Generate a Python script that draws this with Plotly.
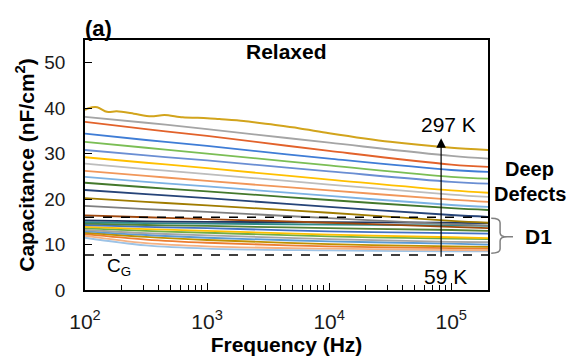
import plotly.graph_objects as go
import math

# ---------------- data ----------------
freq_hz = [100, 316, 1000, 10000, 100000, 200000]

# top curve (297 K) read with its low-frequency wiggles
top_freq_hz = [100, 107, 126, 151, 182, 251, 347, 447, 631, 1000, 1259, 1995,
               3162, 5623, 10000, 31623, 100000, 200000]
top_cap = [39.6, 40.0, 40.2, 39.2, 39.3, 38.8, 38.2, 38.5, 38.0, 37.8, 37.6,
           37.2, 36.5, 35.6, 34.5, 32.6, 31.3, 30.8]

upper_caps = [
    [38.1, 36.8, 35.4, 32.4, 29.5, 28.9],
    [37.0, 35.4, 33.9, 30.6, 27.6, 27.1],
    [34.4, 33.0, 31.7, 28.9, 26.4, 26.0],
    [32.6, 31.3, 30.0, 27.4, 24.9, 24.5],
    [30.8, 29.6, 28.5, 26.1, 23.8, 23.4],
    [29.2, 28.0, 26.8, 24.3, 21.9, 21.4],
    [27.8, 26.6, 25.5, 23.2, 21.0, 20.5],
    [26.2, 25.1, 24.0, 21.9, 19.9, 19.4],
    [24.9, 23.8, 22.8, 20.7, 18.7, 18.3],
    [23.6, 22.6, 21.7, 19.8, 18.0, 17.6],
    [22.0, 21.1, 20.2, 18.3, 16.5, 16.1],
    [20.2, 19.4, 18.6, 17.0, 15.2, 14.8],
    [18.5, 17.8, 17.2, 15.8, 14.5, 14.2],
    [16.4, 16.0, 15.6, 14.8, 13.9, 13.6],
]
upper_colors = ["#A5A5A5", "#E2622B", "#3F7DD6", "#7BBE55", "#6A8ED3",
                "#FFC000", "#BDBDBD", "#F1975A", "#7CB2E3", "#43782B",
                "#264478", "#A07C00", "#7F7F7F", "#9E480E"]

d1_caps = [
    [15.3, 15.1, 15.0, 14.9, 14.8, 14.7],
    [14.9, 14.7, 14.6, 14.4, 14.2, 14.1],
    [14.6, 14.3, 14.1, 13.6, 13.2, 13.0],
    [14.3, 13.9, 13.6, 12.9, 12.5, 12.4],
    [13.9, 13.4, 13.0, 12.2, 11.6, 11.4],
    [13.6, 13.0, 12.6, 11.8, 11.3, 11.2],
    [13.2, 12.5, 12.0, 11.2, 10.6, 10.5],
    [12.9, 12.1, 11.5, 10.7, 10.2, 10.0],
    [12.6, 11.7, 11.0, 10.1, 9.6, 9.5],
    [12.3, 11.1, 10.4, 9.6, 9.2, 9.1],
    [11.9, 10.3, 9.6, 9.1, 8.8, 8.7],
    [11.5, 9.8, 9.1, 8.7, 8.5, 8.5],
]
d1_colors = ["#1F3864", "#2F8A8A", "#548235", "#4472C4", "#FFC000", "#70AD47",
             "#A5A5A5", "#5B9BD5", "#BF9000", "#ED7D31", "#F4B183", "#9DC3E6"]

top_color = "#D2A41C"
cg_level = 7.7          # geometric capacitance C_G
d1_level = 16.0         # upper limit of D1 band
arrow_freq = 82600
arrow_low, arrow_high = 7.0, 33.4
x_tick_vals = [100, 1000, 10000, 100000]
x_tick_text = ["10<sup>2</sup>", "10<sup>3</sup>", "10<sup>4</sup>", "10<sup>5</sup>"]
y_tick_vals = [0, 10, 20, 30, 40, 50]
f_min, f_max = 100, 200000

# ---------------- figure ----------------
fig = go.Figure()
line_w = 1.8

for caps, col in zip(d1_caps[::-1], d1_colors[::-1]):
    fig.add_trace(go.Scatter(x=freq_hz, y=caps, mode="lines",
                             line=dict(color=col, width=line_w, shape="spline"),
                             showlegend=False, hoverinfo="skip"))
for caps, col in zip(upper_caps[::-1], upper_colors[::-1]):
    fig.add_trace(go.Scatter(x=freq_hz, y=caps, mode="lines",
                             line=dict(color=col, width=line_w, shape="spline"),
                             showlegend=False, hoverinfo="skip"))
fig.add_trace(go.Scatter(x=top_freq_hz, y=top_cap, mode="lines",
                         line=dict(color=top_color, width=2, shape="spline", smoothing=0.8),
                         showlegend=False, hoverinfo="skip"))

# dashed reference lines
for lvl in (cg_level, d1_level):
    fig.add_trace(go.Scatter(x=[f_min, f_max], y=[lvl, lvl], mode="lines",
                             line=dict(color="black", width=1.4, dash="dash"),
                             showlegend=False, hoverinfo="skip"))

fig.add_annotation(x=math.log10(arrow_freq), y=arrow_high, ax=math.log10(arrow_freq),
                   ay=arrow_low, xref="x", yref="y", axref="x", ayref="y",
                   showarrow=True, arrowhead=2, arrowsize=1.6, arrowwidth=1.2,
                   arrowcolor="black", text="")

font = "Arial, Liberation Sans, sans-serif"
def ann(text, x, y, size, xref="paper", yref="paper", bold=False, xanchor="center"):
    fig.add_annotation(text=("<b>%s</b>" % text) if bold else text, x=x, y=y,
                       xref=xref, yref=yref, showarrow=False, xanchor=xanchor,
                       yanchor="middle", font=dict(family=font, size=size, color="black"))

ann("(a)", 0.033, 1.045, 22, bold=True)
ann("Relaxed", 0.5, 0.955, 21, bold=True)
ann("297 K", 4.98, 36.4, 21, xref="x", yref="y")
ann("59 K", 4.95, 2.9, 21, xref="x", yref="y")
ann("C<sub>G</sub>", 2.28, 5.0, 19, xref="x", yref="y")
ann("Deep", 1.104, 26.7, 20, yref="y", bold=True)
ann("Defects", 1.104, 21.2, 20, yref="y", bold=True)
ann("D1", 1.125, 11.7, 21, yref="y", bold=True)

# brace for D1
fig.add_shape(type="path", xref="paper", yref="y",
              path="M 1.008,15.8 Q 1.03,15.8 1.03,14.8 L 1.03,12.6 Q 1.03,11.7 1.048,11.7 "
                   "Q 1.03,11.7 1.03,10.8 L 1.03,9.0 Q 1.03,8.1 1.008,8.1 "
                   "M 1.048,11.7 L 1.062,11.7",
              line=dict(color="#808080", width=1.5))

axis_common = dict(showline=True, mirror=True, linecolor="black", linewidth=1.5,
                   showgrid=False, zeroline=False, ticks="inside", tickcolor="black",
                   automargin=False)

# page body has an 8 px margin, so the figure is sized to the visible area
fig.update_layout(
    width=567, height=352,
    margin=dict(l=77, r=87, t=32, b=70, autoexpand=False),
    paper_bgcolor="white", plot_bgcolor="white",
    xaxis=dict(type="log", range=[math.log10(f_min), math.log10(f_max)],
               tickvals=x_tick_vals, ticktext=x_tick_text, ticklen=7,
               minor=dict(ticks="inside", ticklen=5, tickcolor="black", dtick="D1", showgrid=False),
               ticklabelstandoff=12,
               tickfont=dict(family=font, size=21, color="#1a1a1a"),
               title=dict(text="<b>Frequency (Hz)</b>", font=dict(family=font, size=21, color="black"),
                          standoff=2),
               **axis_common),
    yaxis=dict(range=[0, 55], tickvals=y_tick_vals, ticklen=7, ticklabelstandoff=14,
               tickfont=dict(family=font, size=19, color="#1a1a1a"),
               title=dict(text="<b>Capacitance (nF/cm<sup>2</sup>)</b>",
                          font=dict(family=font, size=21, color="black"), standoff=4),
               **axis_common),
)

fig.write_html("out.html")
